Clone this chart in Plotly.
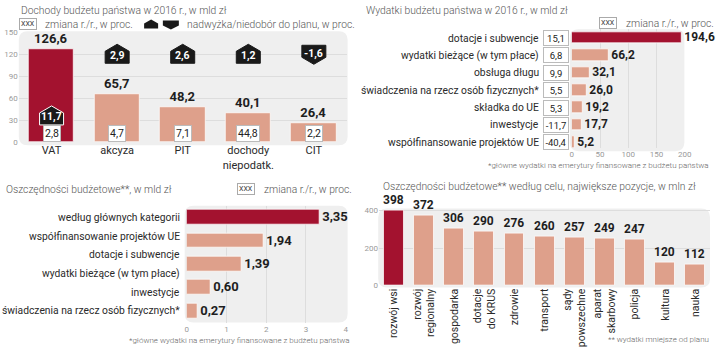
import plotly.graph_objects as go

# ---------------- data ----------------
REV_CATEGORIES = ["VAT", "akcyza", "PIT", "dochody<br>niepodatk.", "CIT"]
REV_VALUES = [126.6, 65.7, 48.2, 40.1, 26.4]
REV_CHANGE = [2.8, 4.7, 7.1, 44.8, 2.2]
REV_PLAN = [11.7, 2.9, 2.6, 1.2, -1.6]
REV_TICKS = [0, 30, 60, 90, 120, 150]

EXP_CATEGORIES = ["dotacje i subwencje", "wydatki bieżące (w tym płace)", "obsługa długu",
                  "świadczenia na rzecz osób fizycznych*", "składka do UE", "inwestycje",
                  "współfinansowanie projektów UE"]
EXP_VALUES = [194.6, 66.2, 32.1, 26.0, 19.2, 17.7, 5.2]
EXP_CHANGE = [15.1, 6.8, 9.9, 5.5, 5.3, -11.7, -40.4]
EXP_TICKS = [0, 50, 100, 150, 200]

SAV_LABELS = ["według głównych kategorii", "współfinansowanie projektów UE", "dotacje i subwencje",
              "wydatki bieżące (w tym płace)", "inwestycje", "świadczenia na rzecz osób fizycznych*"]
SAV_VALUES = [3.35, 1.94, 1.39, 0.60, 0.27]
SAV_TICKS = [0, 1, 2, 3, 4]

PUR_CATEGORIES = ["rozwój wsi", "rozwój<br>regionalny", "gospodarka", "dotacje<br>do KRUS", "zdrowie",
                  "transport", "sądy<br>powszechne", "aparat<br>skarbowy", "policja", "kultura", "nauka"]
PUR_VALUES = [398, 372, 306, 290, 276, 260, 257, 249, 247, 120, 112]
PUR_TICKS = [0, 200, 400]

# ---------------- style ----------------
W, H = 720, 351
CRIMSON = "#a3122f"
SALMON = "#dea08b"
BG = "#efefef"
GRID = "#dddddd"
TEXT = "#1e1e1e"
LABEL = "#2a2a2a"
TITLE = "#555555"
TICK = "#9a9a9a"
F = "Roboto, Arial, sans-serif"
ARROW_LEVEL_ABOVE = 120
ARROW_LEVEL_INSIDE = 36
CHANGE_BOX_LEVEL = 12


def px(x):
    return x / W


def py(y):
    return 1 - y / H


def fmt1(v):
    return f"{v:.1f}".replace(".", ",")


def fmt2(v):
    return f"{v:.2f}".replace(".", ",")


def rrect(x0, y0, x1, y1, r):
    rx, ry = r / W, r / H
    X0, X1 = px(x0), px(x1)
    Y0, Y1 = py(y0), py(y1)
    return (f"M {X0+rx},{Y0} L {X1-rx},{Y0} Q {X1},{Y0} {X1},{Y0-ry} "
            f"L {X1},{Y1+ry} Q {X1},{Y1} {X1-rx},{Y1} L {X0+rx},{Y1} "
            f"Q {X0},{Y1} {X0},{Y1+ry} L {X0},{Y0-ry} Q {X0},{Y0} {X0+rx},{Y0} Z")


UP = "M -12,-9 L -12,3 L 0,10 L 12,3 L 12,-9 Z"
DOWN = "M -12,9 L -12,-3 L 0,-10 L 12,-3 L 12,9 Z"
UP_S = "M -7,-4 L -7,1 L 0,5 L 7,1 L 7,-4 Z"
DOWN_S = "M -8,4 L -8,-1 L 0,-5 L 8,-1 L 8,4 Z"

fig = go.Figure()
bar_line = dict(color="rgba(255,255,255,0.75)", width=1)
VFONT = dict(family=F, size=12, color=TEXT)

fig.add_bar(x=REV_CATEGORIES, y=REV_VALUES, xaxis="x", yaxis="y", width=0.69,
            marker=dict(color=[CRIMSON] + [SALMON] * (len(REV_VALUES) - 1), line=bar_line),
            text=[f"<b>{fmt1(v)}</b>" for v in REV_VALUES], textposition="outside",
            textfont=dict(family=F, size=13, color=TEXT), constraintext="none",
            cliponaxis=False, hoverinfo="skip", showlegend=False)

fig.add_bar(y=EXP_CATEGORIES, x=EXP_VALUES, orientation="h", xaxis="x2", yaxis="y2", width=0.66,
            marker=dict(color=[CRIMSON] + [SALMON] * (len(EXP_VALUES) - 1), line=bar_line),
            text=[f"<b>{fmt1(v)}</b>" for v in EXP_VALUES], textposition="outside",
            textfont=VFONT, constraintext="none",
            cliponaxis=False, hoverinfo="skip", showlegend=False)

fig.add_bar(y=list(range(len(SAV_VALUES))), x=SAV_VALUES, orientation="h", xaxis="x3", yaxis="y3",
            width=0.63,
            marker=dict(color=[CRIMSON] + [SALMON] * (len(SAV_VALUES) - 1), line=bar_line),
            text=[f"<b>{fmt2(v)}</b>" for v in SAV_VALUES], textposition="outside",
            textfont=dict(family=F, size=13, color=TEXT), constraintext="none",
            cliponaxis=False, hoverinfo="skip", showlegend=False)

fig.add_bar(x=PUR_CATEGORIES, y=PUR_VALUES, xaxis="x4", yaxis="y4", width=0.66,
            marker=dict(color=[CRIMSON] + [SALMON] * (len(PUR_VALUES) - 1), line=bar_line),
            text=[f"<b>{v}</b>" for v in PUR_VALUES], textposition="outside",
            textfont=VFONT, constraintext="none",
            cliponaxis=False, hoverinfo="skip", showlegend=False)

tickfont = dict(family=F, size=8, color=TICK)
common = dict(showline=False, zeroline=False, ticks="", fixedrange=True)

fig.update_layout(
    width=W, height=H, margin=dict(l=0, r=0, t=0, b=0, pad=0),
    paper_bgcolor="white", plot_bgcolor="rgba(0,0,0,0)",
    font=dict(family=F, color=LABEL),
    bargap=0,
    xaxis=dict(domain=[px(17), px(349)], anchor="y", range=[-0.5, 4.5], showgrid=False,
               tickfont=dict(family=F, size=11, color=LABEL), **common),
    yaxis=dict(domain=[py(142), py(29)], anchor="x", range=[0, 150], tickvals=REV_TICKS,
               gridcolor=GRID, tickfont=tickfont, **common),
    xaxis2=dict(domain=[px(577), px(691.5)], anchor="y2", range=[0, 200], tickvals=EXP_TICKS,
                gridcolor=GRID, tickfont=tickfont, **common),
    yaxis2=dict(domain=[py(148), py(26)], anchor="x2", range=[6.34, -0.5], showgrid=False,
                showticklabels=False, **common),
    xaxis3=dict(domain=[px(187), px(348)], anchor="y3", range=[0, 4], tickvals=SAV_TICKS,
                gridcolor=GRID, tickfont=tickfont, **common),
    yaxis3=dict(domain=[py(327), py(207)], anchor="x3", range=[4.5, -0.5], showgrid=False,
                showticklabels=False, **common),
    xaxis4=dict(domain=[px(381.75), px(717.25)], anchor="y4", range=[-0.5, 10.5], showgrid=False,
                tickangle=-90, tickfont=dict(family=F, size=10.5, color=LABEL), **common),
    yaxis4=dict(domain=[py(289), py(210)], anchor="x4", range=[0, 410], tickvals=PUR_TICKS,
                gridcolor=GRID, tickfont=tickfont, **common),
)

shapes = []
for (x0, y0, x1, y1) in [(17, 28, 350, 145), (575, 26, 691, 151), (185, 207, 350, 327), (381, 210, 717, 291)]:
    shapes.append(dict(type="path", path=rrect(x0, y0, x1, y1, 9), xref="paper", yref="paper",
                       fillcolor=BG, line=dict(width=0), layer="below"))

ann = []
TSIZE = 10.3


def note(x, y, text, size=TSIZE, color=TITLE, xanchor="left", **kw):
    ann.append(dict(x=px(x), y=py(y), xref="paper", yref="paper", text=text, showarrow=False,
                    xanchor=xanchor, yanchor="middle",
                    font=dict(family=F, size=size, color=color, weight=300), **kw))


def xxx_box(x, y):
    ann.append(dict(x=px(x), y=py(y), xref="paper", yref="paper", text="XXX", showarrow=False,
                    xanchor="left", yanchor="middle", font=dict(family=F, size=7, color="#333"),
                    bgcolor="white", bordercolor="#aaaaaa", borderwidth=1, borderpad=1))


note(17, 7, "Dochody budżetu państwa w 2016 r., w mld zł")
xxx_box(17, 21)
note(42, 21, "zmiana r./r., w proc.")
shapes.append(dict(type="path", path=UP_S, xref="paper", yref="paper", xsizemode="pixel",
                   ysizemode="pixel", xanchor=px(151), yanchor=py(21), fillcolor="#1a1a1a", line=dict(width=0)))
shapes.append(dict(type="path", path=DOWN_S, xref="paper", yref="paper", xsizemode="pixel",
                   ysizemode="pixel", xanchor=px(171), yanchor=py(21), fillcolor="#1a1a1a", line=dict(width=0)))
note(185, 21, "nadwyżka/niedobór do planu, w proc.")

note(367, 7, "Wydatki budżetu państwa w 2016 r., w mld zł")
xxx_box(605, 20)
note(630, 20, "zmiana r./r., w proc.")
note(718, 166, "*główne wydatki na emerytury finansowane z budżetu państwa", size=8, color="#666",
     xanchor="right")

note(2, 190, "Oszczędności budżetowe**, w mld zł")
xxx_box(238, 190)
note(263, 190, "zmiana r./r., w proc.")
note(354, 345, "*główne wydatki na emerytury finansowane z budżetu państwa", size=8, color="#666",
     xanchor="right")

note(384, 187, "Oszczędności budżetowe** według celu, największe pozycje, w mln zł")
note(718, 344, "** wydatki mniejsze od planu", size=8, color="#666", xanchor="right")

for i, (cat, val, plan, chg) in enumerate(zip(REV_CATEGORIES, REV_VALUES, REV_PLAN, REV_CHANGE)):
    inside = val > ARROW_LEVEL_ABOVE
    level = ARROW_LEVEL_INSIDE if inside else ARROW_LEVEL_ABOVE
    shapes.append(dict(type="path", path=UP if plan >= 0 else DOWN, xref="x", yref="y",
                       xsizemode="pixel", ysizemode="pixel", xanchor=i, yanchor=level,
                       fillcolor="#1a1a1a", line=dict(color="white" if inside else "#1a1a1a", width=1)))
    ann.append(dict(x=i, y=level, xref="x", yref="y", text=f"<b>{fmt1(plan)}</b>", showarrow=False,
                    font=dict(family=F, size=10.5, color="white"), yshift=-1 if plan >= 0 else 1))
    ann.append(dict(x=i, y=CHANGE_BOX_LEVEL, xref="x", yref="y", text=fmt1(chg), showarrow=False,
                    font=dict(family=F, size=10.5, color="#222"), bgcolor="white",
                    bordercolor="#bbbbbb", borderwidth=1, borderpad=1))

for cat, chg in zip(EXP_CATEGORIES, EXP_CHANGE):
    ann.append(dict(x=px(546), y=cat, xref="paper", yref="y2", text=cat, showarrow=False,
                    xanchor="right", font=dict(family=F, size=10.3, color=LABEL)))
    ann.append(dict(x=px(561.5), y=cat, xref="paper", yref="y2", text=fmt1(chg), showarrow=False,
                    xanchor="center", font=dict(family=F, size=9.5, color="#222"), bgcolor="white",
                    bordercolor="#bbbbbb", borderwidth=1, borderpad=1, width=22, height=12))

n_lab, n_bar = len(SAV_LABELS), len(SAV_VALUES)
for i, lab in enumerate(SAV_LABELS):
    ann.append(dict(x=px(182), y=i * (n_bar - 1) / (n_lab - 1), xref="paper", yref="y3", text=lab,
                    showarrow=False, xanchor="right", font=dict(family=F, size=10.3, color=LABEL)))

fig.update_layout(shapes=shapes, annotations=ann)
fig.write_html("out.html")
